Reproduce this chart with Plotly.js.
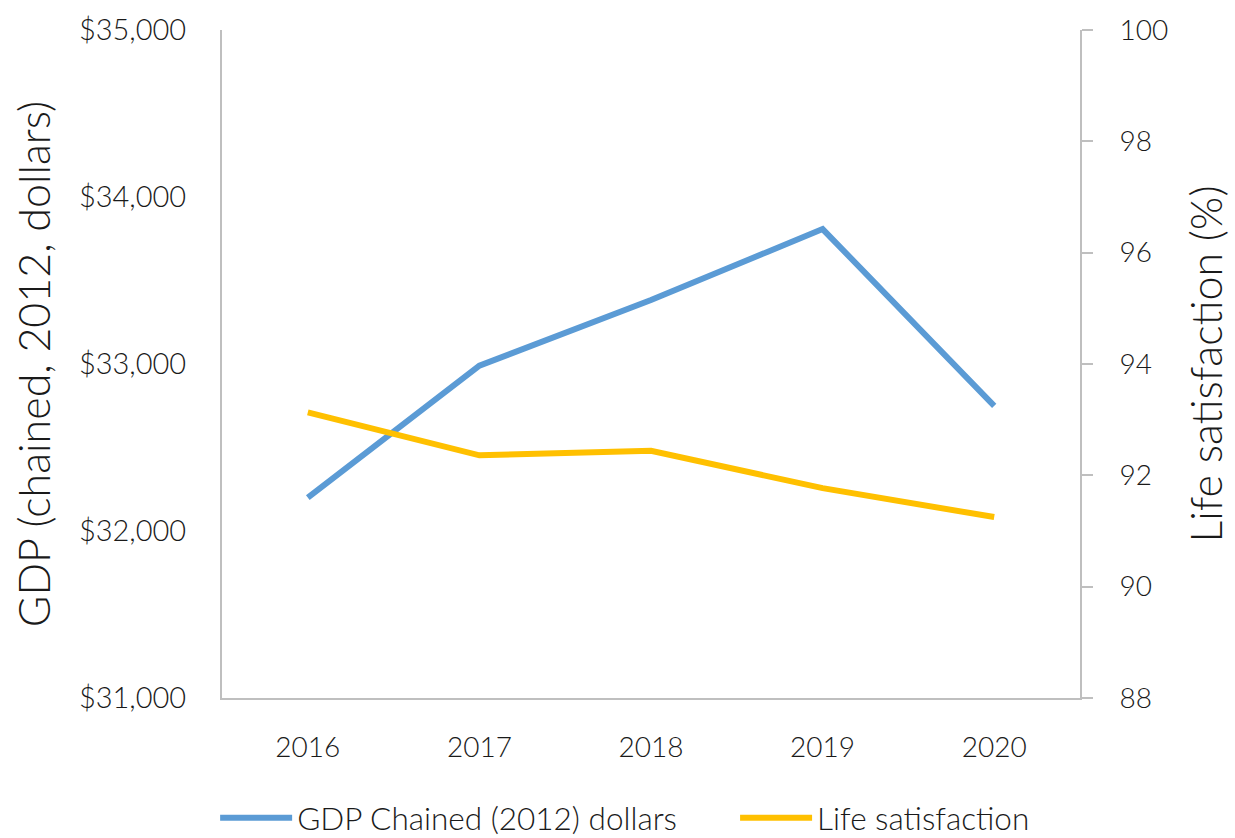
<!DOCTYPE html>
<html>
<head>
<meta charset="utf-8">
<script src="https://cdn.plot.ly/plotly-3.0.1.min.js"></script>
<style>html,body{margin:0;padding:0;background:#fff;}#chart{width:1235px;height:838px;}</style>
</head>
<body>
<div id="chart"></div>
<script>
const years = ['2016', '2017', '2018', '2019', '2020'];
const gdpValues = [32200, 32990, 33383, 33808, 32749];
const lifeSatisfaction = [93.13, 92.36, 92.44, 91.77, 91.25];
const gdpTickVals = [31000, 32000, 33000, 34000, 35000];
const gdpTickText = ['$31,000', '$32,000', '$33,000', '$34,000', '$35,000'];
const seriesNames = ['GDP Chained (2012) dollars', 'Life satisfaction'];

const FONT = 'Lato, "Open Sans", sans-serif';
const AXIS_GREY = '#bfbfbf';
const TXT = '#1a1a1a';

const traces = [
  {x: years, y: gdpValues, name: seriesNames[0], type: 'scatter', mode: 'lines',
   line: {color: '#5B9BD5', width: 6}, yaxis: 'y', legend: 'legend'},
  {x: years, y: lifeSatisfaction, name: seriesNames[1], type: 'scatter', mode: 'lines',
   line: {color: '#FFC000', width: 6}, yaxis: 'y2', legend: 'legend2'}
];

const legendBase = {orientation: 'h', xref: 'paper', xanchor: 'left',
  yref: 'container', y: 0.024, yanchor: 'middle',
  font: {size: 31.5, color: TXT, weight: 300}, itemwidth: 72, bgcolor: 'rgba(0,0,0,0)'};

const layout = {
  width: 1235, height: 838,
  margin: {l: 222, r: 155, t: 30, b: 140, autoexpand: false},
  paper_bgcolor: '#fff', plot_bgcolor: '#fff',
  font: {family: FONT, color: TXT, size: 28, weight: 300},
  showlegend: true,
  legend: Object.assign({}, legendBase, {x: -0.008}),
  legend2: Object.assign({}, legendBase, {x: 0.598}),
  xaxis: {type: 'category', range: [-0.5, 4.5], showline: true, linecolor: AXIS_GREY, linewidth: 2,
          showgrid: false, zeroline: false, ticks: '', tickfont: {size: 28}, ticklabelstandoff: 23,
          fixedrange: true},
  yaxis: {range: [31000, 35000], tickvals: gdpTickVals, ticktext: gdpTickText,
          showline: true, linecolor: AXIS_GREY, linewidth: 2, showgrid: false, zeroline: false,
          ticks: '', tickfont: {size: 29}, ticklabelstandoff: 28,
          title: {text: 'GDP (chained, 2012, dollars)', font: {size: 43}, standoff: 15}},
  yaxis2: {range: [88, 100], dtick: 2, overlaying: 'y', side: 'right', showline: true,
           linecolor: AXIS_GREY, linewidth: 2, showgrid: false, zeroline: false,
           ticks: 'outside', ticklen: 11, tickwidth: 2, tickcolor: AXIS_GREY, tickfont: {size: 28},
           ticklabelstandoff: 21,
           title: {text: 'Life satisfaction (%)', font: {size: 43}, standoff: 25}}
};

Plotly.newPlot('chart', traces, layout, {displayModeBar: false, staticPlot: true});
</script>
</body>
</html>
